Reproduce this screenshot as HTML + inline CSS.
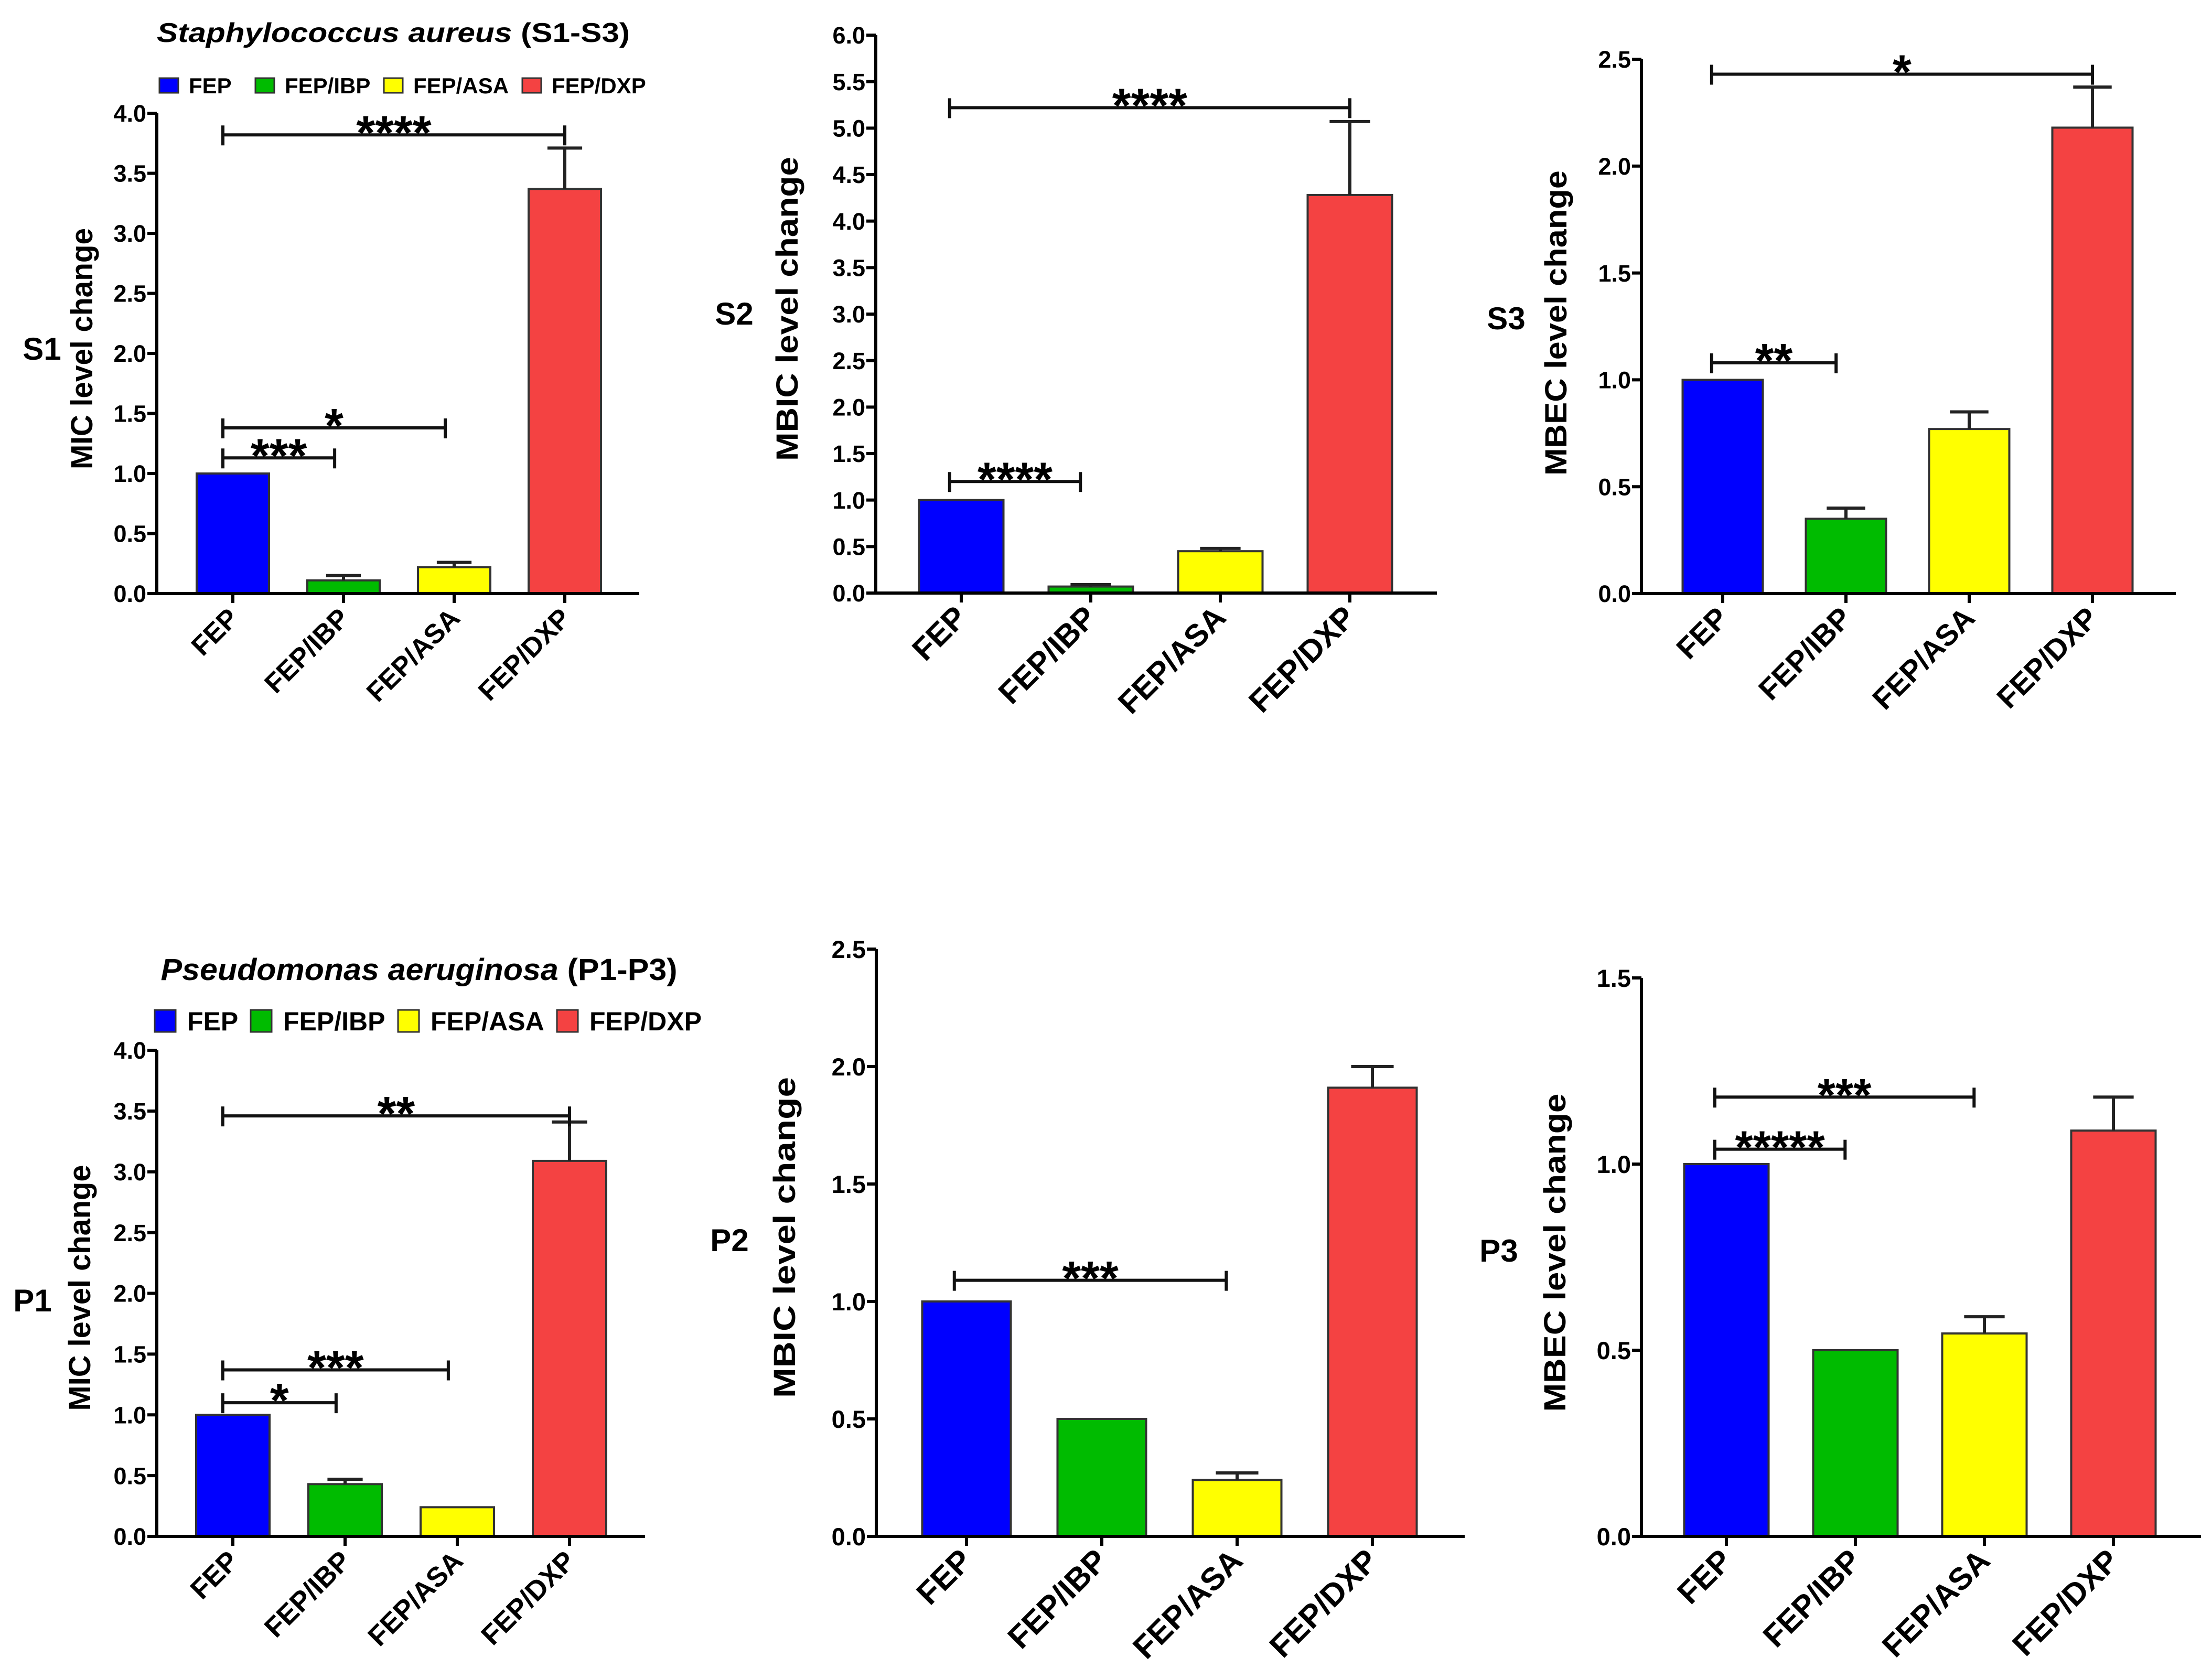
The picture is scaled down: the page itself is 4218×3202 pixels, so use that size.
<!DOCTYPE html>
<html><head><meta charset="utf-8">
<style>
html,body{margin:0;padding:0;background:#fff;}
svg{display:block;font-family:"Liberation Sans",Arial,sans-serif;font-weight:bold;}
</style></head>
<body>
<svg id="fig" width="4218" height="3202" viewBox="0 0 4218 3202" xmlns="http://www.w3.org/2000/svg">
<rect width="4218" height="3202" fill="#fff"/>
<text x="750" y="80" font-size="52" text-anchor="middle" textLength="902" lengthAdjust="spacingAndGlyphs"><tspan font-style="italic">Staphylococcus aureus</tspan> (S1-S3)</text>
<text x="799" y="1869" font-size="58" text-anchor="middle" textLength="985" lengthAdjust="spacingAndGlyphs"><tspan font-style="italic">Pseudomonas aeruginosa</tspan> (P1-P3)</text>
<g id="legS"></g>
<g id="legP"></g>
</svg>
<script>
const categories = ["FEP","FEP/IBP","FEP/ASA","FEP/DXP"];
const colors = ["#0000FF","#00BB00","#FFFF00","#F44242"];

const s1Values = [1.0, 0.11, 0.22, 3.37];
const s1Errors = [0, 0.15, 0.26, 3.71];
const s1Ticks = ["0.0","0.5","1.0","1.5","2.0","2.5","3.0","3.5","4.0"];
const s1Brackets = [[0,3,3.82,"****"],[0,2,1.38,"*"],[0,1,1.13,"***"]];

const s2Values = [1.0, 0.07, 0.45, 4.28];
const s2Errors = [0, 0.09, 0.48, 5.07];
const s2Ticks = ["0.0","0.5","1.0","1.5","2.0","2.5","3.0","3.5","4.0","4.5","5.0","5.5","6.0"];
const s2Brackets = [[0,3,5.22,"****"],[0,1,1.2,"****"]];

const s3Values = [1.0, 0.35, 0.77, 2.18];
const s3Errors = [0, 0.40, 0.85, 2.37];
const s3Ticks = ["0.0","0.5","1.0","1.5","2.0","2.5"];
const s3Brackets = [[0,3,2.43,"*"],[0,1,1.08,"**"]];

const p1Values = [1.0, 0.43, 0.24, 3.09];
const p1Errors = [0, 0.47, 0, 3.41];
const p1Ticks = ["0.0","0.5","1.0","1.5","2.0","2.5","3.0","3.5","4.0"];
const p1Brackets = [[0,3,3.46,"**"],[0,2,1.37,"***"],[0,1,1.1,"*"]];

const p2Values = [1.0, 0.5, 0.24, 1.91];
const p2Errors = [0, 0, 0.27, 2.0];
const p2Ticks = ["0.0","0.5","1.0","1.5","2.0","2.5"];
const p2Brackets = [[0,2,1.09,"***"]];

const p3Values = [1.0, 0.5, 0.545, 1.09];
const p3Errors = [0, 0, 0.59, 1.18];
const p3Ticks = ["0.0","0.5","1.0","1.5"];
const p3Brackets = [[0,2,1.18,"***"],[0,1,1.04,"*****"]];

const NS="http://www.w3.org/2000/svg";
const svg=document.getElementById("fig");
function mk(tag,attrs,parent){const e=document.createElementNS(NS,tag);for(const k in attrs)e.setAttribute(k,attrs[k]);(parent||svg).appendChild(e);return e;}

function panel(id,cfg,values,errors,ticks,brackets){
  const g=mk("g",{});
  
  
  const ymax=parseFloat(ticks[ticks.length-1]);
  const ys=v=>cfg.y0-(cfg.y0-cfg.yTop)*v/ymax;
  const xs=i=>cfg.t0+cfg.step*i;
  values.forEach((v,i)=>{
    const b=mk("rect",{x:xs(i)-cfg.bw/2,y:ys(v),width:cfg.bw,height:cfg.y0-ys(v),fill:colors[i],stroke:"#333",'stroke-width':4},g);
    
    
  });
  errors.forEach((e,i)=>{
    if(e<=values[i])return;
    const eg=mk("g",{stroke:"#222",'stroke-width':6},g);
    
    
    mk("line",{x1:xs(i),x2:xs(i),y1:ys(values[i]),y2:ys(e)},eg);
    mk("line",{x1:xs(i)-cfg.bw*0.24,x2:xs(i)+cfg.bw*0.24,y1:ys(e),y2:ys(e)},eg);
  });
  const ax=mk("g",{stroke:"#000",'stroke-width':6},g);
  
  
  mk("line",{x1:cfg.ax,x2:cfg.ax,y1:cfg.yTop,y2:cfg.y0+3},ax);
  mk("line",{x1:cfg.ax-3,x2:cfg.xEnd,y1:cfg.y0,y2:cfg.y0},ax);
  ticks.forEach((t)=>{
    const y=ys(parseFloat(t));
    mk("line",{x1:cfg.ax-18,x2:cfg.ax,y1:y,y2:y},ax);
    const tl=mk("text",{x:cfg.ax-20,y:y+cfg.tf*0.36,'font-size':cfg.tf,'text-anchor':'end'},g);
    tl.textContent=t;
    
    
  });
  categories.forEach((c,i)=>{
    mk("line",{x1:xs(i),x2:xs(i),y1:cfg.y0,y2:cfg.y0+18},ax);
    const px=xs(i)+14, py=cfg.y0+50;
    const tl=mk("text",{x:px,y:py,'font-size':cfg.xf,'text-anchor':'end',transform:`rotate(-45 ${px} ${py})`},g);
    tl.textContent=c;
    
    
  });
  brackets.forEach(b=>{
    const x1=xs(b[0])-cfg.step*0.09, x2=xs(b[1])-(b[1]===3?0:cfg.step*0.08), y=ys(b[2]);
    const bg=mk("g",{stroke:"#111",'stroke-width':6},g);
    
    
    mk("line",{x1:x1,x2:x2,y1:y,y2:y},bg);
    mk("line",{x1:x1,x2:x1,y1:y-18,y2:y+20},bg);
    mk("line",{x1:x2,x2:x2,y1:y-18,y2:y+20},bg);
    const st=mk("text",{x:(x1+x2)/2,y:y+cfg.sf*0.3,'font-size':cfg.sf,'text-anchor':'middle'},g);
    st.textContent=b[3];
    
    
  });
  const yt=mk("text",{x:0,y:0,'font-size':58,'text-anchor':'middle',transform:`translate(${cfg.ytx+20} ${cfg.yty}) rotate(-90)`,textLength:cfg.ytl,lengthAdjust:"spacingAndGlyphs"},g);
  yt.textContent=cfg.title;
  
  
  const pl=mk("text",{x:cfg.lx,y:cfg.ly+21,'font-size':60,'text-anchor':'middle'},g);
  pl.textContent=id.toUpperCase();
  
  
}

panel("s1",{ax:299,xEnd:1219,y0:1132,yTop:216,t0:444,step:211,bw:138,tf:45,xf:52,sf:92,title:"MIC level change",ytx:156,yty:665,ytl:460,lx:80,ly:665},s1Values,s1Errors,s1Ticks,s1Brackets);
panel("s2",{ax:1670,xEnd:2740,y0:1131,yTop:67,t0:1833,step:247,bw:161,tf:45,xf:60,sf:92,title:"MBIC level change",ytx:1501,yty:589,ytl:580,lx:1400,ly:598},s2Values,s2Errors,s2Ticks,s2Brackets);
panel("s3",{ax:3130,xEnd:4149,y0:1132,yTop:113,t0:3285,step:235,bw:153,tf:45,xf:57,sf:92,title:"MBEC level change",ytx:2967,yty:616,ytl:582,lx:2872,ly:607},s3Values,s3Errors,s3Ticks,s3Brackets);
panel("p1",{ax:299,xEnd:1230,y0:2930,yTop:2003,t0:444,step:214,bw:140,tf:45,xf:53,sf:92,title:"MIC level change",ytx:152,yty:2456,ytl:469,lx:62,ly:2480},p1Values,p1Errors,p1Ticks,p1Brackets);
panel("p2",{ax:1671,xEnd:2793,y0:2930,yTop:1810,t0:1843,step:258,bw:169,tf:47,xf:61,sf:92,title:"MBIC level change",ytx:1496,yty:2360,ytl:612,lx:1391,ly:2365},p2Values,p2Errors,p2Ticks,p2Brackets);
panel("p3",{ax:3130,xEnd:4197,y0:2930,yTop:1865,t0:3292,step:246,bw:161,tf:47,xf:60,sf:88,title:"MBEC level change",ytx:2965,yty:2389,ytl:607,lx:2858,ly:2385},p3Values,p3Errors,p3Ticks,p3Brackets);

function legend(gid,xs,cy,sw,sh,fs,gap){
  const g=document.getElementById(gid);
  categories.forEach((c,i)=>{
    const r=mk("rect",{x:xs[i],y:cy-sh/2,width:sw,height:sh,fill:colors[i],stroke:"#333",'stroke-width':3},g);
    
    
    const t=mk("text",{x:xs[i]+gap,y:cy+fs*0.36,'font-size':fs},g);
    t.textContent=c;
    
    
  });
}
legend("legS",[304,487,732,996],163,36,28,42,56);
legend("legP",[295,478,759,1062],1947,40,42,50,62);
</script>
</body></html>
